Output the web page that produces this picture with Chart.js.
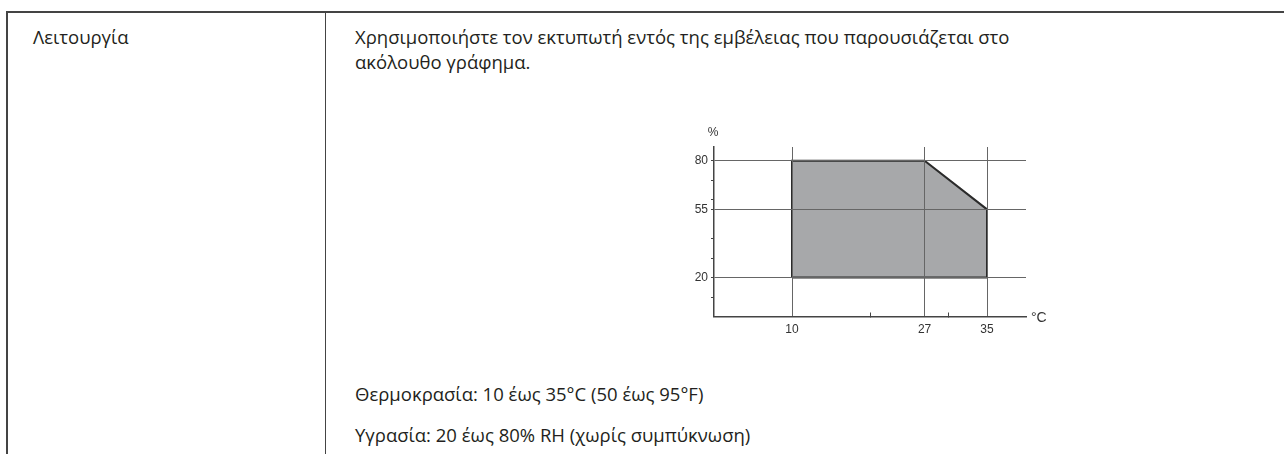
<!DOCTYPE html>
<html>
<head>
<meta charset="utf-8">
<script src="https://cdn.jsdelivr.net/npm/chart.js@4/dist/chart.umd.min.js"></script>
<style>
  html, body { margin: 0; padding: 0; background: #fff; }
  #page { position: relative; width: 1284px; height: 454px; overflow: hidden;
          font-family: "Open Sans", sans-serif; font-size: 18.5px; color: #231f20; }
  .line { position: absolute; background: #444; }
  .txt { position: absolute; white-space: nowrap; line-height: 20px; }
  #chartBox { position: absolute; left: 660px; top: 120px; width: 400px; height: 230px; }
</style>
</head>
<body>
<div id="page">
  <div class="line" style="left:6px; top:11px; width:1278px; height:1.5px;"></div>
  <div class="line" style="left:6px; top:11px; width:1.5px; height:443px;"></div>
  <div class="line" style="left:325px; top:11px; width:1px; height:443px;"></div>

  <div class="txt" style="left:33px; top:27px;">Λειτουργία</div>
  <div class="txt" style="left:355px; top:27px;">Χρησιμοποιήστε τον εκτυπωτή εντός της εμβέλειας που παρουσιάζεται στο</div>
  <div class="txt" style="left:355px; top:52px;">ακόλουθο γράφημα.</div>
  <div class="txt" style="left:355px; top:384px;">Θερμοκρασία: 10 έως 35°C (50 έως 95°F)</div>
  <div class="txt" style="left:355px; top:425px;">Υγρασία: 20 έως 80% RH (χωρίς συμπύκνωση)</div>

  <div id="chartBox"><canvas id="chart" width="400" height="230"></canvas></div>
</div>
<script>
// operating range outline (temperature °C, humidity %)
var tempC = [10, 10, 27, 35, 35, 10];
var humidity = [20, 80, 80, 55, 20, 20];

// axis ticks
var xTicks = [10, 20, 27, 30, 35];
var xLabels = [10, 27, 35];
var yTicks = [10, 20, 30, 40, 55, 60, 70, 80];
var yLabels = [20, 55, 80];

var tickFont = { family: 'Liberation Sans', size: 12 };

var unitLabels = {
    id: 'unitLabels',
    afterDraw(chart) {
        var ctx = chart.ctx, a = chart.chartArea;
        ctx.save();
        ctx.fillStyle = '#333';
        ctx.font = '12px "Liberation Sans"';
        ctx.textAlign = 'center';
        ctx.textBaseline = 'middle';
        ctx.fillText('%', a.left - 1, a.top - 14);
        ctx.textAlign = 'left';
        ctx.font = '14px "Liberation Sans"';
        ctx.fillText('°C', a.right + 5, a.bottom + 2);
        ctx.restore();
    }
};

var pts = tempC.map(function (t, i) { return { x: t, y: humidity[i] }; });

new Chart(document.getElementById('chart'), {
    type: 'scatter',
    data: {
        datasets: [{
            data: pts,
            showLine: true,
            fill: 'shape',
            backgroundColor: '#a7a8aa',
            borderColor: '#2b2b2b',
            borderWidth: 2,
            pointRadius: 0,
            tension: 0
        }]
    },
    options: {
        responsive: false,
        animation: false,
        devicePixelRatio: 1,
        layout: { padding: { top: 27, right: 34, left: 0, bottom: 0 } },
        plugins: { legend: { display: false }, tooltip: { enabled: false } },
        scales: {
            x: {
                type: 'linear', min: 0, max: 40,
                afterBuildTicks: function (s) { s.ticks = xTicks.map(function (v) { return { value: v }; }); },
                afterFit: function (s) { s.height = 33.5; },
                grid: {
                    z: 1,
                    color: function (c) { return xLabels.indexOf(c.tick.value) >= 0 ? '#666' : 'rgba(0,0,0,0)'; },
                    tickColor: function (c) { return xLabels.indexOf(c.tick.value) >= 0 ? 'rgba(0,0,0,0)' : '#444'; },
                    tickLength: -4,
                    lineWidth: 1
                },
                border: { color: '#444', width: 1.5, z: 1 },
                ticks: {
                    autoSkip: false, maxRotation: 0, padding: 10,
                    font: tickFont, color: '#333',
                    callback: function (v) { return xLabels.indexOf(v) >= 0 ? String(v) : ''; }
                }
            },
            y: {
                type: 'linear', min: 0, max: 87,
                afterBuildTicks: function (s) { s.ticks = yTicks.map(function (v) { return { value: v }; }); },
                afterFit: function (s) { s.width = 54; },
                grid: {
                    z: 1,
                    color: function (c) { return yLabels.indexOf(c.tick.value) >= 0 ? '#666' : 'rgba(0,0,0,0)'; },
                    tickColor: '#444',
                    tickLength: 3,
                    lineWidth: 1
                },
                border: { color: '#444', width: 1.5, z: 1 },
                ticks: {
                    autoSkip: false, padding: 3,
                    font: tickFont, color: '#333',
                    callback: function (v) { return yLabels.indexOf(v) >= 0 ? String(v) : ''; }
                }
            }
        }
    },
    plugins: [unitLabels]
});
</script>
</body>
</html>
